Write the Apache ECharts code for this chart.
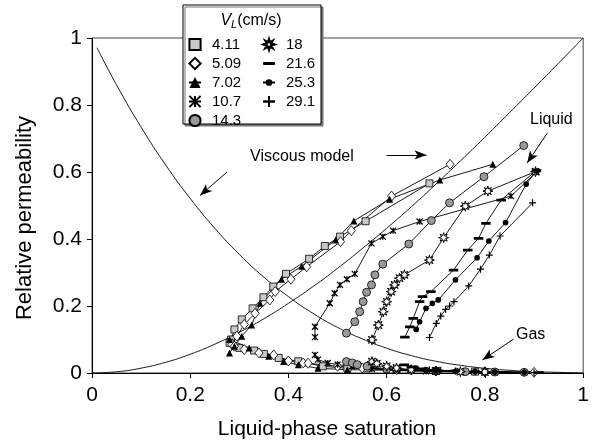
<!DOCTYPE html>
<html><head><meta charset="utf-8">
<script src="https://cdn.jsdelivr.net/npm/echarts@6/dist/echarts.min.js"></script>
<style>html,body{margin:0;padding:0;background:#fff}#c{width:592px;height:443px}</style>
</head><body><div id="c"></div>
<script>
// ---- data ----
const speeds = ['4.11','5.09','7.02','10.7','14.3','18','21.6','25.3','29.1'];
const xTickLabels = ['0','0.2','0.4','0.6','0.8','1'];
const yTickLabels = ['0','0.2','0.4','0.6','0.8','1'];

const liq_411 = [[0.283,0.10],[0.29,0.13],[0.305,0.16],[0.327,0.193],[0.349,0.226],[0.369,0.258],[0.395,0.296],[0.442,0.341],[0.474,0.379],[0.505,0.407],[0.557,0.453],[0.687,0.566]];
const liq_509 = [[0.285,0.085],[0.295,0.11],[0.31,0.145],[0.332,0.178],[0.362,0.218],[0.373,0.243],[0.405,0.28],[0.437,0.317],[0.506,0.392],[0.528,0.425],[0.61,0.528],[0.729,0.623]];
const liq_702 = [[0.28,0.06],[0.29,0.08],[0.305,0.11],[0.325,0.143],[0.342,0.208],[0.386,0.28],[0.427,0.319],[0.496,0.397],[0.533,0.454],[0.606,0.519],[0.708,0.576],[0.816,0.623]];
const liq_107 = [[0.454,0.107],[0.454,0.138],[0.484,0.208],[0.494,0.238],[0.505,0.263],[0.519,0.28],[0.535,0.296],[0.569,0.387],[0.592,0.407],[0.613,0.425],[0.667,0.452],[0.853,0.528],[0.905,0.6]];
const liq_143 = [[0.518,0.119],[0.535,0.153],[0.545,0.183],[0.552,0.213],[0.559,0.241],[0.569,0.263],[0.576,0.293],[0.592,0.325],[0.645,0.385],[0.691,0.455],[0.728,0.508],[0.798,0.586],[0.879,0.679]];
const liq_18  = [[0.57,0.099],[0.583,0.143],[0.593,0.183],[0.6,0.213],[0.609,0.243],[0.616,0.263],[0.626,0.283],[0.636,0.293],[0.687,0.337],[0.716,0.404],[0.76,0.498],[0.806,0.543],[0.903,0.601]];
const liq_216 = [[0.637,0.107],[0.647,0.138],[0.654,0.163],[0.667,0.213],[0.673,0.228],[0.69,0.243],[0.736,0.307],[0.765,0.367],[0.787,0.402],[0.802,0.447],[0.833,0.516],[0.905,0.605]];
const liq_253 = [[0.66,0.13],[0.667,0.153],[0.68,0.193],[0.693,0.208],[0.705,0.218],[0.74,0.278],[0.784,0.344],[0.808,0.394],[0.842,0.449],[0.884,0.564],[0.905,0.603]];
const liq_291 = [[0.687,0.106],[0.701,0.148],[0.71,0.17],[0.72,0.19],[0.728,0.2],[0.737,0.213],[0.767,0.26],[0.791,0.31],[0.809,0.352],[0.831,0.409],[0.897,0.508]];

const gas_411 = [[0.28,0.09],[0.30,0.075],[0.33,0.067],[0.35,0.057],[0.38,0.045],[0.42,0.035],[0.47,0.02],[0.52,0.014],[0.56,0.014],[0.62,0.01],[0.7,0.006],[0.78,0.004]];
const gas_509 = [[0.29,0.08],[0.31,0.07],[0.34,0.06],[0.37,0.054],[0.40,0.036],[0.43,0.03],[0.44,0.029],[0.5,0.02],[0.55,0.015],[0.62,0.01],[0.7,0.006],[0.8,0.004],[0.9,0.002]];
const gas_702 = [[0.28,0.1],[0.32,0.075],[0.36,0.05],[0.39,0.034],[0.42,0.025],[0.46,0.014],[0.52,0.01],[0.6,0.008],[0.7,0.005],[0.8,0.003]];
const gas_107 = [[0.454,0.054],[0.46,0.04],[0.48,0.03],[0.5,0.025],[0.53,0.02],[0.57,0.012],[0.62,0.008],[0.68,0.005],[0.75,0.003],[0.82,0.002]];
const gas_143 = [[0.518,0.034],[0.53,0.03],[0.54,0.025],[0.56,0.02],[0.6,0.012],[0.65,0.008],[0.7,0.006],[0.76,0.004],[0.82,0.003],[0.88,0.002]];
const gas_18  = [[0.57,0.034],[0.58,0.028],[0.6,0.02],[0.62,0.015],[0.65,0.01],[0.7,0.006],[0.75,0.004],[0.8,0.003]];
const gas_216 = [[0.636,0.024],[0.65,0.018],[0.67,0.012],[0.7,0.008],[0.74,0.006],[0.78,0.004],[0.84,0.002],[0.91,0.001]];
const gas_253 = [[0.66,0.015],[0.68,0.01],[0.7,0.008],[0.74,0.005],[0.78,0.004],[0.82,0.003],[0.88,0.002]];
const gas_291 = [[0.687,0.01],[0.71,0.008],[0.74,0.006],[0.78,0.004],[0.82,0.003],[0.88,0.002],[0.9,0.001]];

const modelLiqS = [0,0.05,0.1,0.15,0.2,0.25,0.3,0.35,0.4,0.45,0.5,0.55,0.6,0.65,0.7,0.75,0.8,0.85,0.9,0.95,1];
const modelLiqK = [0,0.0037,0.0145,0.032,0.056,0.086,0.1215,0.162,0.208,0.258,0.3125,0.371,0.432,0.496,0.5635,0.633,0.704,0.777,0.8505,0.925,1];
const modelGasS = [0.01,0.05,0.1,0.15,0.2,0.25,0.3,0.35,0.4,0.45,0.5,0.55,0.6,0.65,0.7,0.75,0.8,0.85,0.9,0.95,1];
const modelGasK = [0.971,0.86,0.734,0.621,0.521,0.432,0.354,0.286,0.228,0.178,0.136,0.102,0.074,0.052,0.035,0.023,0.014,0.008,0.004,0.002,0];

// ---- styling ----
const FONT = 'Liberation Sans, Arial, Helvetica, sans-serif';
const liquidSets = [liq_411,liq_509,liq_702,liq_107,liq_143,liq_18,liq_216,liq_253,liq_291];
const gasSets = [gas_411,gas_509,gas_702,gas_107,gas_143,gas_18,gas_216,gas_253,gas_291];
const STAR8 = 'path://M20,10L14.16,11.72L17.07,17.07L11.72,14.16L10,20L8.28,14.16L2.93,17.07L5.84,11.72L0,10L5.84,8.28L2.93,2.93L8.28,5.84L10,0L11.72,5.84L17.07,2.93L14.16,8.28Z';
const DASH = 'path://M0,0L0.01,0M0,3.2L9,3.2L9,5.8L0,5.8ZM8.99,9L9,9';
const DOT = 'path://M0,0L0.01,0M2,5A3,3 0 1 1 8,5A3,3 0 1 1 2,5ZM9.99,10L10,10';
const markers = [
  {symbol:'rect', size:7, fill:'#c8c8c8', bw:0.8},
  {symbol:'diamond', size:[8,10], fill:'#fff', bw:0.8},
  {symbol:'triangle', size:7, fill:'#000', bw:0},
  {symbol:'path://M0,0L10,10M10,0L0,10M5,0L5,10', size:6, fill:'#000', bw:1.3},
  {symbol:'circle', size:8, fill:'#999', bw:0.8},
  {symbol:STAR8, size:10, fill:'#fff', bw:1},
  {symbol:DASH, size:9.5, fill:'#000', bw:0},
  {symbol:DOT, size:9.5, fill:'#000', bw:0},
  {symbol:'path://M5,0L5,10M0,5L10,5', size:7, fill:'#000', bw:1.2}
];

const series = [];
function mk(name, data, m){
  return {
    name, type:'line', data, symbol:m.symbol, symbolSize:m.size, showAllSymbol:true,
    lineStyle:{color:'#000', width:0.9},
    itemStyle:{color:m.fill, borderColor:'#000', borderWidth:m.bw},
    emphasis:{disabled:true}, animation:false, z:3
  };
}
speeds.forEach((s,i)=>{
  series.push(mk(s, liquidSets[i], markers[i]));
  series.push(mk(s, gasSets[i], markers[i]));
});
series.push({name:'modelLiq', type:'line', data:modelLiqS.map((s,i)=>[s,modelLiqK[i]]), symbol:'none', smooth:true,
  lineStyle:{color:'#000', width:0.9}, animation:false, z:2});
series.push({name:'modelGas', type:'line', data:modelGasS.map((s,i)=>[s,modelGasK[i]]), symbol:'none', smooth:true,
  lineStyle:{color:'#000', width:0.9}, animation:false, z:2});
series.push({name:'arrows', type:'line', data:[], animation:false,
  markLine:{silent:true, symbolSize:[7,12], label:{show:false}, lineStyle:{color:'#000', width:1, type:'solid'},
    emphasis:{disabled:true},
    data:[
      [{coord:[0.60,0.651], symbol:'none'},{coord:[0.681,0.651], symbol:'arrow'}],
      [{coord:[0.275,0.60], symbol:'none'},{coord:[0.22,0.53], symbol:'arrow'}],
      [{coord:[0.927,0.716], symbol:'none'},{coord:[0.886,0.627], symbol:'arrow'}],
      [{coord:[0.858,0.101], symbol:'none'},{coord:[0.795,0.039], symbol:'arrow'}]
    ]}});

const legendCommon = {orient:'vertical', itemWidth:12, itemHeight:14, itemGap:4, padding:0, z:101,
  textStyle:{fontSize:15, fontFamily:FONT, color:'#000', padding:[0,0,0,6]}, selectedMode:false, backgroundColor:'transparent'};

const chart = echarts.init(document.getElementById('c'), null, {renderer:'canvas'});
chart.setOption({
  animation:false,
  textStyle:{fontFamily:FONT},
  grid:{left:92, right:8, top:38, bottom:70, show:true, borderColor:'#444', borderWidth:1, backgroundColor:'transparent'},
  xAxis:{type:'value', min:0, max:1, interval:0.2,
    axisLine:{show:true, lineStyle:{color:'#000', width:1}}, axisTick:{show:true, inside:false, length:5, lineStyle:{color:'#000'}},
    splitLine:{show:false},
    axisLabel:{fontSize:21, color:'#000', fontFamily:FONT, margin:12, formatter:(v)=>xTickLabels[Math.round(v/0.2)]}},
  yAxis:{type:'value', min:0, max:1, interval:0.2,
    axisLine:{show:true, lineStyle:{color:'#000', width:1}}, axisTick:{show:true, inside:false, length:5, lineStyle:{color:'#000'}},
    splitLine:{show:false},
    axisLabel:{fontSize:21, color:'#000', fontFamily:FONT, margin:10, formatter:(v)=>yTickLabels[Math.round(v/0.2)]}},
  legend:[
    Object.assign({data:speeds.slice(0,5), left:188, top:37}, legendCommon),
    Object.assign({data:speeds.slice(5), left:262, top:37}, legendCommon)
  ],
  graphic:[
    {type:'rect', z:100, shape:{x:183, y:5, width:138, height:119},
      style:{fill:'#fff', stroke:'#000', lineWidth:1, shadowColor:'#777', shadowOffsetX:2, shadowOffsetY:2, shadowBlur:0}},
    {type:'text', z:101, x:251, y:21, style:{text:'{v|V}{s|L}{n|(cm/s)}', align:'center', verticalAlign:'middle',
      rich:{v:{fontSize:16, fontStyle:'italic', fontFamily:FONT, fill:'#000'},
            s:{fontSize:11, fontStyle:'italic', fontFamily:FONT, fill:'#000', padding:[8,0,0,0]},
            n:{fontSize:16, fontFamily:FONT, fill:'#000'}}}},
    {type:'text', z:50, x:250, y:157, style:{text:'Viscous model', fontSize:16, fontFamily:FONT, fill:'#000', verticalAlign:'middle'}},
    {type:'text', z:50, x:530, y:120, style:{text:'Liquid', fontSize:16, fontFamily:FONT, fill:'#000', verticalAlign:'middle'}},
    {type:'text', z:50, x:516, y:335, style:{text:'Gas', fontSize:16, fontFamily:FONT, fill:'#000', verticalAlign:'middle'}},
    {type:'text', z:50, x:327, y:429, style:{text:'Liquid-phase saturation', fontSize:21, fontFamily:FONT, fill:'#000', align:'center', verticalAlign:'middle'}},
    {type:'text', z:50, x:25, y:218, rotation:Math.PI/2, style:{text:'Relative permeability', fontSize:22, fontFamily:FONT, fill:'#000', align:'center', verticalAlign:'middle'}}
  ],
  series
});
</script></body></html>
